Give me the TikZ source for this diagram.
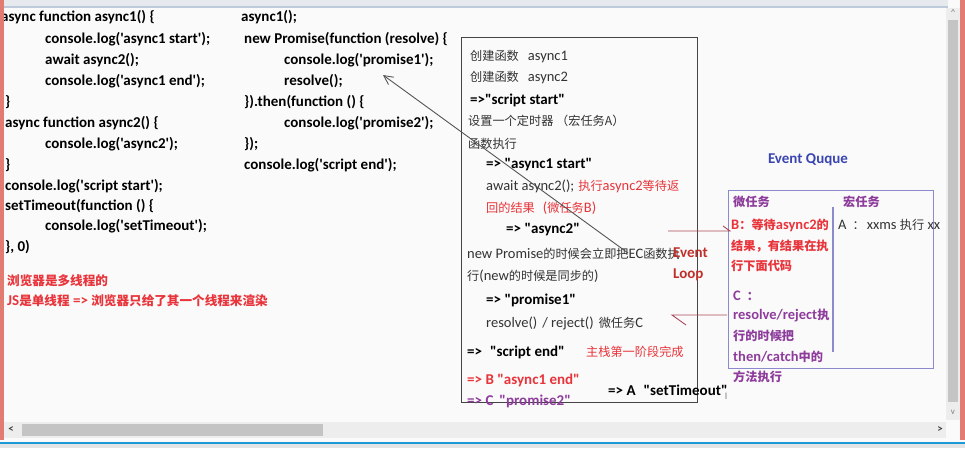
\documentclass[tikz,border=0pt]{standalone}
\usepackage{fontspec}
\setmainfont{Carlito}[Ligatures=TeXOff]
\newfontfamily\cjk{Noto Sans CJK SC}[Scale=0.84]
\usetikzlibrary{arrows.meta}
\newcommand\zh[1]{{\cjk #1}}
\definecolor{bgc}{HTML}{FAFAFA}
\definecolor{boxtxt}{HTML}{333333}
\definecolor{redt}{HTML}{E8343A}
\definecolor{purp}{HTML}{8E3C9C}
\definecolor{bluet}{HTML}{3A45B0}
\definecolor{qbox}{HTML}{8A8ACC}
\definecolor{linkred}{HTML}{A8485A}
\definecolor{pinkb}{HTML}{E27C72}
\definecolor{sbar}{HTML}{C4C4C4}
\definecolor{strack}{HTML}{EDEDED}
\definecolor{bluebar}{HTML}{1C9AD6}
\definecolor{topband}{HTML}{E6EAEE}
\definecolor{topline}{HTML}{BECADA}
\definecolor{statusc}{HTML}{E4E4E4}
\definecolor{eboxc}{HTML}{444444}
\definecolor{arrowc}{HTML}{555555}
\definecolor{loopred}{HTML}{C0302A}
\tikzset{
  x=1pt,y=-1pt,
  code/.style={anchor=west,inner sep=0pt,font=\fontsize{15}{18}\selectfont\bfseries},
  btxt/.style={anchor=west,inner sep=0pt,text=boxtxt,font=\fontsize{14.5}{17}\selectfont},
  bbold/.style={anchor=west,inner sep=0pt,text=black,font=\fontsize{15}{18}\selectfont\bfseries},
  qtxt/.style={anchor=west,inner sep=0pt,font=\fontsize{14.5}{17}\selectfont\bfseries},
}
\begin{document}
\begin{tikzpicture}
% background & window decorations
\fill[bgc] (0,0) rectangle (965,448);
\useasboundingbox (0,0) rectangle (965,448);
\fill[topband] (0,0) rectangle (948,7);
\draw[line width=2pt,topline] (4,7) -- (948,7);
\fill[strack] (946,8) rectangle (960,420);
\fill[sbar] (948,20) rectangle (958,402);
\node[font=\fontsize{9}{9}\selectfont,text=gray,inner sep=0] (up) at (953,12) {\^{}};
\node[font=\fontsize{9}{9}\selectfont,text=gray,inner sep=0] (dn) at (953,412) {v};
\fill[pinkb] (960,0) rectangle (965,440);
\fill[strack] (4,422) rectangle (946,438);
\fill[sbar] (22,424) rectangle (323,436);
\node[font=\fontsize{11}{11}\selectfont\bfseries,text=darkgray,inner sep=0] (lt) at (11,430) {<};
\node[font=\fontsize{11}{11}\selectfont\bfseries,text=darkgray,inner sep=0] (rt) at (940,430) {>};
\fill[statusc] (0,444) rectangle (965,448);
\draw[line width=2.2pt,bluebar] (0,443) -- (965,443);

% left code
\node[code] (l1) at (1,17) {async function async1() \{};
\node[code] (l2) at (45,39) {console.log('async1 start');};
\node[code] (l3) at (45,60) {await async2();};
\node[code] (l4) at (45,81) {console.log('async1 end');};
\node[code] (l5) at (5,102) {\}};
\node[code] (l6) at (5,123) {async function async2() \{};
\node[code] (l7) at (45,144) {console.log('async2');};
\node[code] (l8) at (5,165) {\}};
\node[code] (l9) at (5,186) {console.log('script start');};
\node[code] (l10) at (5,206) {setTimeout(function () \{};
\node[code] (l11) at (45,226) {console.log('setTimeout');};
\node[code] (l12) at (5,247) {\}, 0)};
\node[code,text=redt] (l13) at (7,281) {\zh{浏览器是多线程的}};
\node[code,text=redt] (l14) at (7,301) {JS\zh{是单线程} => \zh{浏览器只给了其一个线程来渲染}};
\fill[pinkb] (0,0) rectangle (4,440);

% middle code
\node[code] (m1) at (241,17) {async1();};
\node[code] (m2) at (244,39) {new Promise(function (resolve) \{};
\node[code] (m3) at (284,60) {console.log('promise1');};
\node[code] (m4) at (284,81) {resolve();};
\node[code] (m5) at (244,102) {\}).then(function () \{};
\node[code] (m6) at (284,123) {console.log('promise2');};
\node[code] (m7) at (244,144) {\});};
\node[code] (m8) at (244,165) {console.log('script end');};

% execution box
\node[draw=eboxc,line width=1pt,minimum width=236pt,minimum height=365pt,anchor=north west,inner sep=0] (ebox) at (461,37) {};
\node[btxt] (b1) at (470,57) {\zh{创建函数}\hspace{9pt}async1};
\node[btxt] (b2) at (470,78) {\zh{创建函数}\hspace{9pt}async2};
\node[bbold] (b3) at (470,100) {=>"script start"};
\node[btxt] (b4) at (468,121) {\zh{设置一个定时器 （宏任务A）}};
\node[btxt] (b5) at (468,144) {\zh{函数执行}};
\node[bbold] (b6) at (486,165) {=> "async1 start"};
\node[btxt] (b7) at (486,186) {await async2();\hspace{4pt}\textcolor{redt}{\zh{执行}async2\zh{等待返}}};
\node[btxt,text=redt] (b8) at (486,208) {\zh{回的结果}\hspace{8pt}(\zh{微任务}B)};
\node[bbold] (b9) at (506,230) {=> "async2"};
\node[btxt] (b10) at (467,254) {new Promise\zh{的时候会立即把}EC\zh{函数执}};
\node[btxt] (b11) at (467,276) {\zh{行}(new\zh{的时候是同步的})};
\node[bbold] (b12) at (486,300) {=> "promise1"};
\node[btxt] (b13) at (486,323) {resolve()\hspace{5pt}/ reject()\hspace{5pt}\zh{微任务}C};
\node[bbold] (b14) at (467,352) {=>\hspace{8pt}"script end"};
\node[btxt,text=redt] (b15) at (586,352) {\zh{主栈第一阶段完成}};
\node[bbold,text=redt] (b16) at (467,380) {=> B "async1 end"};
\node[bbold,text=purp] (b17) at (467,401) {=> C\hspace{6pt}"promise2"};
\node[bbold] (b18) at (608,390) {=> A\hspace{8pt}"setTimeout"};
\node[font=\fontsize{10}{10}\selectfont,text=gray,inner sep=0] (cur) at (726,396) {I};

% event loop label
\node[anchor=north west,inner sep=0,align=left,text=loopred,font=\fontsize{15}{21}\selectfont\bfseries] (el) at (673,248) {Event\\Loop};

% event queue
\node[text=bluet,font=\fontsize{15}{18}\selectfont\bfseries,inner sep=0] (eq) at (808,160) {Event Quque};
\node[draw=qbox,line width=1pt,minimum width=205pt,minimum height=178pt,anchor=north west,inner sep=0] (qbox) at (728,190) {};
\coordinate (dtop) at (833,207);
\coordinate (dbot) at (833,352);
\draw[qbox,line width=1.2pt] (dtop) -- (dbot);
\node[qtxt,text=purp] (q1) at (733,202) {\zh{微任务}};
\node[qtxt,text=purp] (q2) at (843,202) {\zh{宏任务}};
\node[btxt] (qa) at (838,225) {A\hspace{6pt}\zh{：}\hspace{2pt}xxms \zh{执行} xx};
\node[qtxt,text=redt] (qb1) at (731,225) {B\zh{：等待}async2\zh{的}};
\node[qtxt,text=redt] (qb2) at (731,246) {\zh{结果，有结果在执}};
\node[qtxt,text=redt] (qb3) at (731,266) {\zh{行下面代码}};
\node[qtxt,text=purp] (qc1) at (733,296) {C\hspace{6pt}\zh{：}};
\node[qtxt,text=purp] (qc2) at (733,316) {resolve/reject\zh{执}};
\node[qtxt,text=purp] (qc3) at (733,336) {\zh{行的时候把}};
\node[qtxt,text=purp] (qc4) at (733,357) {then/catch\zh{中的}};
\node[qtxt,text=purp] (qc5) at (733,377) {\zh{方法执行}};

% connectors
\coordinate (pa) at (628,253);
\coordinate (pb) at (383,75);
\draw[arrowc,line width=0.9pt,-{Straight Barb[length=9pt,width=9pt]}] (pa) -- (pb);
\coordinate (r1a) at (668,231);
\coordinate (r1b) at (730,231);
\coordinate (r1t) at (723,226);
\draw[linkred,line width=0.9pt] (r1a) -- (r1b) -- (r1t);
\coordinate (r2a) at (727,315);
\coordinate (r2b) at (672,315);
\coordinate (r2t) at (686,325);
\draw[linkred,line width=0.9pt] (r2a) -- (r2b) -- (r2t);
\end{tikzpicture}
\end{document}
